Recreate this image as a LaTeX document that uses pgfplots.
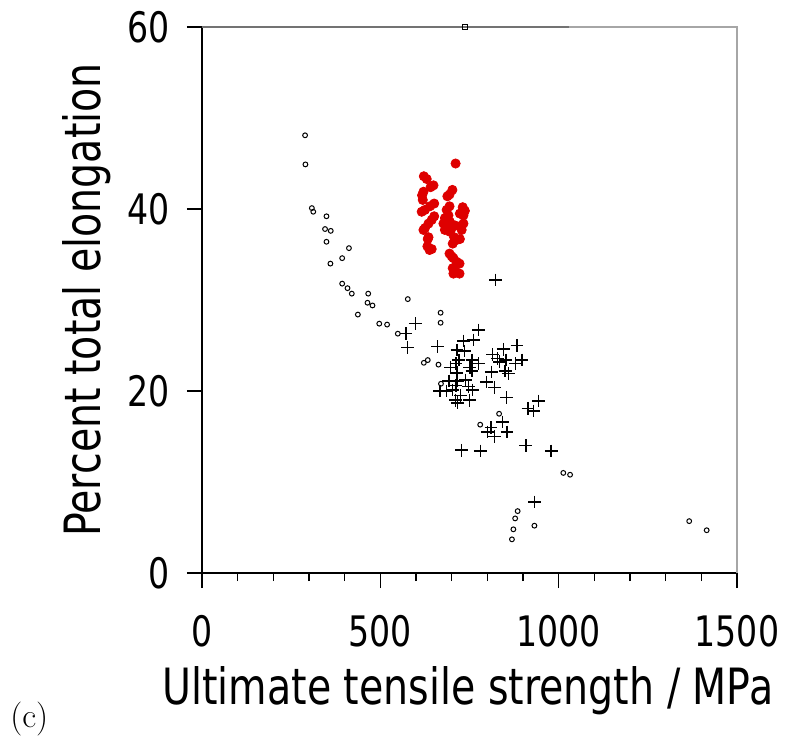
\documentclass[border=0pt]{standalone}
\usepackage{fontspec}
\usepackage{pgfplots}
\pgfplotsset{compat=1.18}
\newfontfamily\labelfont{DejaVu Sans}[FakeStretch=0.79]
\definecolor{dotred}{RGB}{222,0,0}
\begin{document}
\begin{tikzpicture}
\useasboundingbox (0,0) rectangle (394pt,368pt);
\begin{axis}[
  at={(101pt,81.5pt)}, anchor=south west,
  scale only axis, width=267.5pt, height=273pt,
  xmin=0, xmax=1500, ymin=0, ymax=60,
  axis lines*=left, axis line style={-, black, line width=0.6pt},
  xtick={0,500,1000,1500}, ytick={0,20,40,60},
  minor x tick num=4,
  tick align=outside, tick style={black, line width=0.6pt},
  major tick length=7.5pt, minor tick length=4pt,
  /pgf/number format/assume math mode=true,
  /pgf/number format/1000 sep={},
  ticklabel style={font=\labelfont\fontsize{21}{25}\selectfont},
  xticklabel style={yshift=-10pt},
  yticklabel style={xshift=-5pt},
  label style={font=\labelfont\fontsize{25}{30}\selectfont},
  xlabel={Ultimate tensile strength / MPa},
  ylabel={Percent total elongation},
  xlabel style={at={(axis description cs:0.497,-0.24)}, anchor=base},
  ylabel style={at={(axis description cs:-0.19,0.5)}, anchor=base},
  clip mode=individual,
]
\addplot[only marks, mark=o, mark size=1.2pt, mark options={black, line width=0.5pt}] coordinates {
(289,48.1) (290,44.9) (308,40.1) (312,39.7) (349,39.2) (345,37.8) (361,37.6)
(349,36.4) (412,35.7) (393,34.6) (360,34.0) (393,31.8) (408,31.3) (420,30.7)
(466,30.7) (464,29.7) (478,29.4) (437,28.4) (577,30.1) (497,27.4) (519,27.3)
(549,26.3) (669,28.6) (669,27.5) (622,23.1) (633,23.4) (663,22.9) (670,20.8)
(833,17.5) (780,16.3) (1013,11.0) (1032,10.8) (885,6.8) (878,6.0) (873,4.8)
(869,3.7) (932,5.2) (1366,5.7) (1415,4.7)
};
\addplot[only marks, mark=+, mark size=3.2pt, mark options={black, line width=0.7pt}] coordinates {
(823,32.2) (598,27.4) (572,26.3) (576,24.8) (660,24.9) (775,26.7) (733,25.5)
(762,25.6) (715,24.5) (736,24.4) (720,23.4) (712,23.0) (757,23.4) (775,23.0)
(751,22.6) (757,22.2) (697,22.6) (715,22.0) (845,24.6) (883,25.0) (815,24.0)
(828,23.6) (852,23.4) (879,23.0) (897,23.4) (834,23.2) (811,22.1) (850,22.2)
(859,21.9) (797,21.0) (820,20.4) (692,21.1) (716,21.1) (739,21.2) (712,20.6)
(747,20.5) (759,20.1) (667,20.0) (685,20.0) (702,20.1) (725,19.5) (711,19.0)
(716,18.7) (750,19.0) (854,19.3) (944,18.9) (914,18.1) (929,17.8) (842,16.6)
(810,16.0) (800,15.5) (855,15.5) (820,15.0) (728,13.5) (780,13.4) (908,14.0)
(979,13.4) (932,7.8)
};
\addplot[only marks, mark=*, mark size=2.3pt, mark options={draw=dotred, fill=dotred}] coordinates {
(711,45.0) (622,43.6) (630,43.3) (649,42.6) (641,42.4) (621,41.9) (617,41.5)
(702,42.1) (694,41.6) (688,41.4) (619,41.0) (651,40.6) (639,40.3) (625,39.9)
(616,39.7) (731,40.2) (737,39.8) (723,39.5) (733,39.3) (694,40.3) (686,39.9)
(691,39.3) (681,39.0) (651,39.2) (644,38.8) (635,38.4) (677,38.4) (686,38.2)
(695,38.6) (709,38.2) (723,38.1) (733,38.4) (625,37.9) (621,37.7) (681,37.7)
(695,37.5) (700,37.9) (728,37.7) (635,36.9) (633,36.7) (707,36.9) (714,36.6)
(723,36.7) (703,36.2) (632,35.9) (644,35.6) (638,35.5) (694,35.1) (700,34.8)
(705,34.6) (714,34.2) (722,34.0) (703,33.5) (709,33.2) (705,32.9) (722,32.9)
};
\draw[gray!70, line width=0.6pt] (rel axis cs:0,1) -- (rel axis cs:1,1) -- (rel axis cs:1,0);
\draw[gray!90!black, line width=0.6pt] (rel axis cs:0,1) -- (axis cs:1030,60);
\addplot[only marks, mark=square, mark size=1.2pt, mark options={black, line width=0.5pt}] coordinates {(737,60)};
\end{axis}
\node[anchor=west, inner sep=0pt, font=\fontsize{17}{20}\selectfont] at (5pt,8.5pt) {(c)};
\end{tikzpicture}
\end{document}
